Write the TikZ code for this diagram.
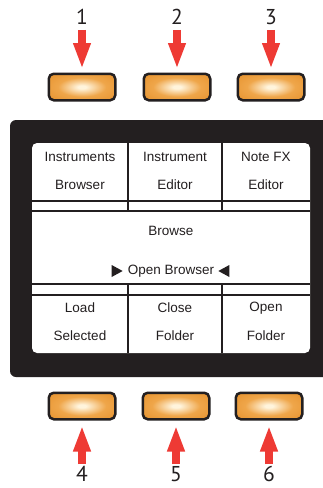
\documentclass[tikz,border=0pt]{standalone}
\usepackage{fontspec}
\setmainfont{Liberation Sans}
\newfontfamily\numfont{PT Sans}
\usepackage{tikz}
\usetikzlibrary{arrows.meta,positioning,backgrounds,calc}
\definecolor{panelblack}{HTML}{231F20}
\definecolor{padorange}{HTML}{E38A22}
\definecolor{padmid}{HTML}{EFA64A}
\definecolor{padlight}{HTML}{FFF4DC}
\definecolor{arrowred}{HTML}{EE3A34}
\pgfdeclareradialshading{padglow}{\pgfpoint{0bp}{0bp}}{color(0bp)=(padlight); color(3bp)=(padlight); color(18bp)=(padmid); color(42bp)=(padorange); color(75bp)=(padorange)}

\tikzset{
  pad/.style={draw=panelblack, line width=2.5pt, rounded corners=5pt, shade, shading=padglow,
    minimum width=66.5pt, minimum height=26.5pt, inner sep=0pt},
  num/.style={font=\numfont\fontsize{21.5}{22}\selectfont, text=panelblack, inner sep=0pt},
  press/.style={arrowred, line width=8pt, -{Triangle[width=16pt,length=26pt]}},
  lbl/.style={font=\fontsize{13.5}{14}\selectfont, text=panelblack, inner sep=0pt},
  sep/.style={panelblack, line width=2pt}
}

\begin{document}
\begin{tikzpicture}[x=1pt,y=-1pt]
\fill[white] (0,0) rectangle (323,488);
\useasboundingbox (0,0) rectangle (323,488);

% panel and screen
\fill[panelblack, rounded corners=6pt] (10,120) rectangle (345,377);
\fill[white, rounded corners=5pt] (32,143) rectangle (310,353);
\foreach \y in {201,211,284,295}
  \draw[sep] (32,\y) -- (310,\y);
\foreach \x in {128,222} {
  \draw[sep] (\x,143) -- (\x,211);
  \draw[sep] (\x,284) -- (\x,353);
}

% screen texts
\node[lbl] (instA) at (80,157) {Instruments};
\node[lbl] (instB) at (80,185) {Browser};
\node[lbl] (editA) at (175,157) {Instrument};
\node[lbl] (editB) at (175,185) {Editor};
\node[lbl] (noteA) at (266,157) {Note FX};
\node[lbl] (noteB) at (266,185) {Editor};
\node[lbl] (browse) at (171,231) {Browse};
\node[lbl] (openbr) at (171,271) {Open Browser};
\fill[panelblack] ($(openbr.west)+(-5,0)$) -- ++(-11,-6) -- ++(0,12) -- cycle;
\fill[panelblack] ($(openbr.east)+(4,0)$) -- ++(11,-6) -- ++(0,12) -- cycle;
\node[lbl] (loadA) at (80,308) {Load};
\node[lbl] (loadB) at (80,336) {Selected};
\node[lbl] (closeA) at (175,308) {Close};
\node[lbl] (closeB) at (175,336) {Folder};
\node[lbl] (openA) at (266,308) {Open};
\node[lbl] (openB) at (266,336) {Folder};

% buttons
\node[pad] (p1) at (82,87) {};
\node[pad] (p2) at (177,87) {};
\node[pad] (p3) at (271,87) {};
\node[pad] (p4) at (82,406) {};
\node[pad] (p5) at (176,406) {};
\node[pad] (p6) at (269,406) {};

% numbers and arrows
\node[num] (n1) at (82,17) {1};
\node[num] (n2) at (177,17) {2};
\node[num] (n3) at (271,17) {3};
\node[num] (n4) at (82,474) {4};
\node[num] (n5) at (176,474) {5};
\node[num] (n6) at (269,474) {6};
\foreach \i in {1,2,3}
  \draw[press, shorten <=5pt, shorten >=3.5pt] (n\i) -- (p\i);
\foreach \i in {4,5,6}
  \draw[press, shorten <=2pt, shorten >=5pt] (n\i) -- (p\i);
\end{tikzpicture}
\end{document}
